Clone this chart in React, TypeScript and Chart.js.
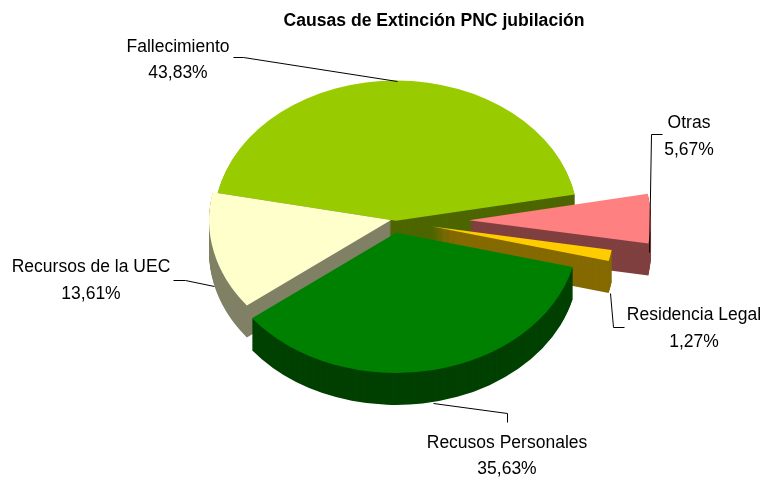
import React, { useEffect, useRef } from "react";
import { Chart, registerables } from "chart.js";

Chart.register(...registerables);

const categories = ["Fallecimiento", "Otras", "Residencia Legal", "Recusos Personales", "Recursos de la UEC"];
const shares = [43.83, 5.67, 1.27, 35.63, 13.61];
const topColours = ["#99CC00", "#FF8080", "#FFCC00", "#008000", "#FFFFCC"];
const wallColours = ["#4D6600", "#804040", "#856A00", "#004000", "#808066"];
const explode = [0, 73, 37, 16, 2];
const nudgeX = [0, 0, 0, -3, -3];
const nudgeY = [0, 0, 0, 0, -1.5];
const paintOrder = [0, 4, 1, 2, 3];

const TITLE = "Causas de Extinción PNC jubilación";
const RADIUS = 182;
const SQUASH = 0.77;
const DEPTH = 32;
const TITLE_X = 434;
const FONT = '"Liberation Sans", Arial, sans-serif';

const labelCentres = [
  [178, 52, 78],
  [689, 128, 155],
  [694, 320, 347],
  [507, 448, 474],
  [91, 272, 299],
];
const leaders = [
  [[233, 57], [243, 57], [397, 81]],
  [[662, 134], [651, 134], [649, 252]],
  [[610, 293], [613, 327], [624, 327]],
  [[433, 403], [507, 413], [507, 422]],
  [[173, 280], [185, 280], [214, 286]],
];

const pieScene = {
  id: "pieScene",
  afterLayout(chart: any) {
    const t = chart.titleBlock;
    const half = (t.right - t.left) / 2;
    t.left = TITLE_X - half;
    t.right = TITLE_X + half;
  },
  afterDatasetsUpdate(chart: any) {
    chart.getDatasetMeta(0).data.forEach((arc: any, i: number) => {
      const mid = (arc.startAngle + arc.endAngle) / 2;
      arc.x += Math.cos(mid) * explode[i] + nudgeX[i];
      arc.y += Math.sin(mid) * explode[i] + nudgeY[i];
    });
  },
  beforeDatasetsDraw(chart: any) {
    const { ctx } = chart;
    const arcs = chart.getDatasetMeta(0).data;
    const area = chart.chartArea;
    const cy = (area.top + area.bottom) / 2;
    for (const i of paintOrder) {
      const a = arcs[i];
      ctx.fillStyle = wallColours[i];
      for (let k = DEPTH; k >= 1; k--) {
        ctx.save();
        ctx.translate(0, cy + k);
        ctx.scale(1, SQUASH);
        ctx.translate(0, -cy);
        ctx.beginPath();
        ctx.moveTo(a.x, a.y);
        ctx.arc(a.x, a.y, a.outerRadius, a.startAngle, a.endAngle);
        ctx.closePath();
        ctx.fill();
        ctx.restore();
      }
    }
  },
  beforeDatasetDraw(chart: any) {
    const { ctx } = chart;
    const area = chart.chartArea;
    const cy = (area.top + area.bottom) / 2;
    ctx.save();
    ctx.translate(0, cy);
    ctx.scale(1, SQUASH);
    ctx.translate(0, -cy);
  },
  afterDatasetDraw(chart: any) {
    chart.ctx.restore();
  },
  afterDraw(chart: any) {
    const { ctx } = chart;
    ctx.save();
    ctx.strokeStyle = "#000";
    ctx.lineWidth = 1;
    for (const line of leaders) {
      ctx.beginPath();
      line.forEach(([x, y], j) => (j ? ctx.lineTo(x + 0.5, y + 0.5) : ctx.moveTo(x + 0.5, y + 0.5)));
      ctx.stroke();
    }
    ctx.fillStyle = "#000";
    ctx.font = `17.5px ${FONT}`;
    ctx.textAlign = "center";
    ctx.textBaseline = "alphabetic";
    categories.forEach((name, i) => {
      const [x, y1, y2] = labelCentres[i];
      ctx.fillText(name, x, y1);
      ctx.fillText(`${shares[i].toFixed(2).replace(".", ",")}%`, x, y2);
    });
    ctx.restore();
  },
};

export default function App() {
  const ref = useRef<HTMLCanvasElement>(null);
  useEffect(() => {
    const chart = new Chart(ref.current!, {
      type: "pie",
      data: {
        labels: categories,
        datasets: [{ data: shares, backgroundColor: topColours, hoverBackgroundColor: topColours, borderWidth: 0 }],
      },
      options: {
        responsive: false,
        animation: false,
        rotation: -78.6,
        radius: RADIUS,
        layout: { padding: { left: 28, right: 0, top: 0, bottom: 68.6 } },
        plugins: {
          legend: { display: false },
          tooltip: { enabled: false },
          title: {
            display: true,
            text: TITLE,
            color: "#000",
            font: { family: FONT, size: 17.6, weight: "bold" },
            padding: { top: 11, bottom: 0 },
          },
        },
      },
      plugins: [pieScene],
    } as any);
    return () => chart.destroy();
  }, []);
  return (
    <div style={{ position: "fixed", left: 0, top: 0 }}>
      <canvas ref={ref} width={764} height={478} style={{ display: "block" }} />
    </div>
  );
}
